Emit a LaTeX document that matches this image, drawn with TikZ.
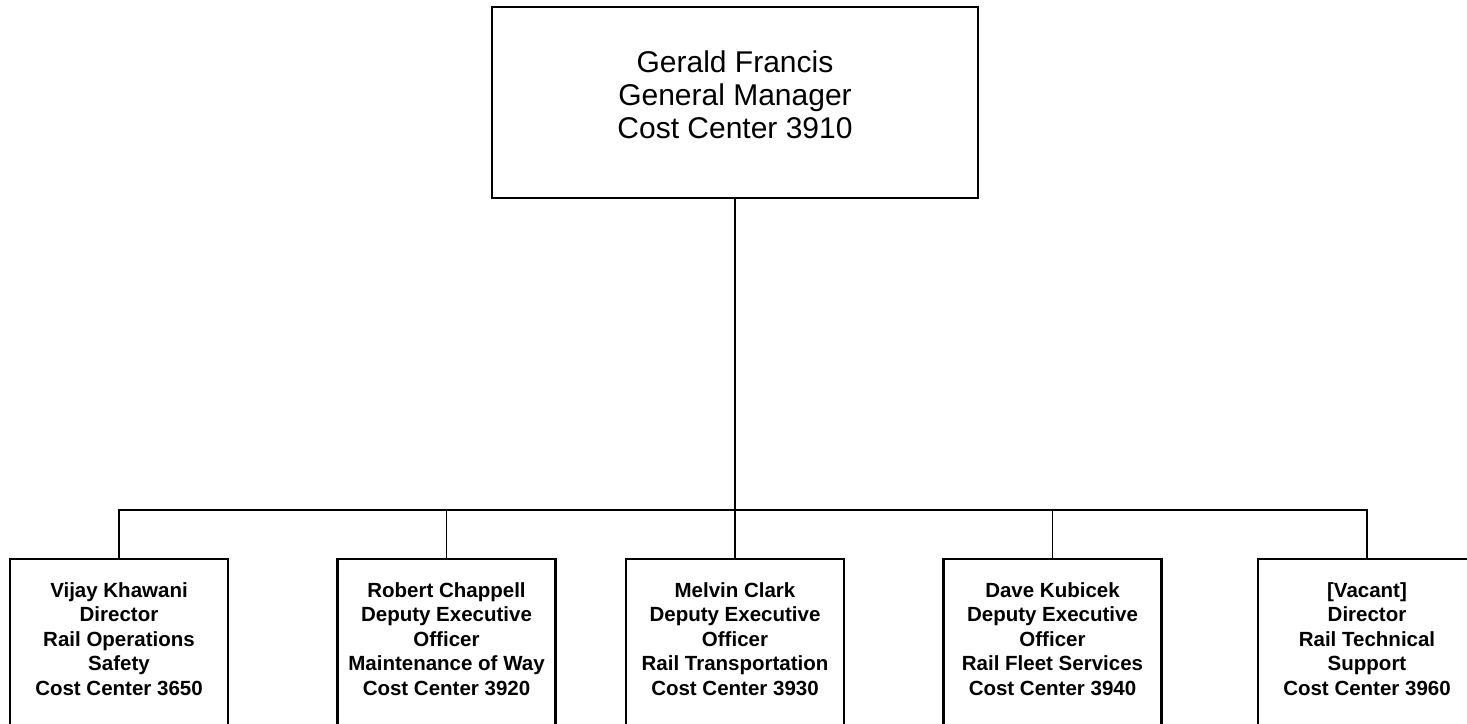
\documentclass[tikz,border=0pt]{standalone}
\usepackage{fontspec}
\setmainfont{Liberation Sans}
\tikzset{
  topbox/.style={draw, line width=2.4pt, minimum width=486pt, minimum height=191pt, inner sep=0pt},
  unitbox/.style={draw, line width=2.4pt, minimum width=218pt, minimum height=220pt, anchor=north, inner sep=0pt},
  toptext/.style={align=center, font=\fontsize{30}{33}\selectfont, inner sep=0pt},
  unittext/.style={align=center, font=\fontsize{20.5}{24.5}\selectfont\bfseries, inner sep=0pt},
  conn/.style={line width=1.5pt}
}
\begin{document}
\begin{tikzpicture}[x=1pt,y=1pt]
\useasboundingbox (0,0) rectangle (1467,723);
% top box
\node[topbox] (gm) at (735,620.5) {};
\node[toptext] (gmtext) at (735,628) {Gerald Francis\\General Manager\\Cost Center 3910};
% unit boxes (open at the bottom edge of the picture)
\node[unitbox] (b1) at (119,165) {};
\node[unitbox] (b2) at (446.5,165) {};
\node[unitbox] (b3) at (735,165) {};
\node[unitbox] (b4) at (1052.5,165) {};
\node[unitbox] (b5) at (1367,165) {};
\node[unittext] (t1) at (119,84) {Vijay Khawani\\Director\\Rail Operations\\Safety\\Cost Center 3650};
\node[unittext] (t2) at (446.5,84) {Robert Chappell\\Deputy Executive\\Officer\\Maintenance of Way\\Cost Center 3920};
\node[unittext] (t3) at (735,84) {Melvin Clark\\Deputy Executive\\Officer\\Rail Transportation\\Cost Center 3930};
\node[unittext] (t4) at (1052.5,84) {Dave Kubicek\\Deputy Executive\\Officer\\Rail Fleet Services\\Cost Center 3940};
\node[unittext] (t5) at (1367,84) {[Vacant]\\Director\\Rail Technical\\Support\\Cost Center 3960};
% connectors
\coordinate (hub) at (735,213);
\draw[conn] (gm.south) -- (hub);
\draw[conn] (b1.north) -- (b1.north |- hub) -- (b5.north |- hub) -- (b5.north);
\draw[conn] (b2.north) -- (b2.north |- hub);
\draw[conn] (b3.north) -- (b3.north |- hub);
\draw[conn] (b4.north) -- (b4.north |- hub);
\end{tikzpicture}
\end{document}
